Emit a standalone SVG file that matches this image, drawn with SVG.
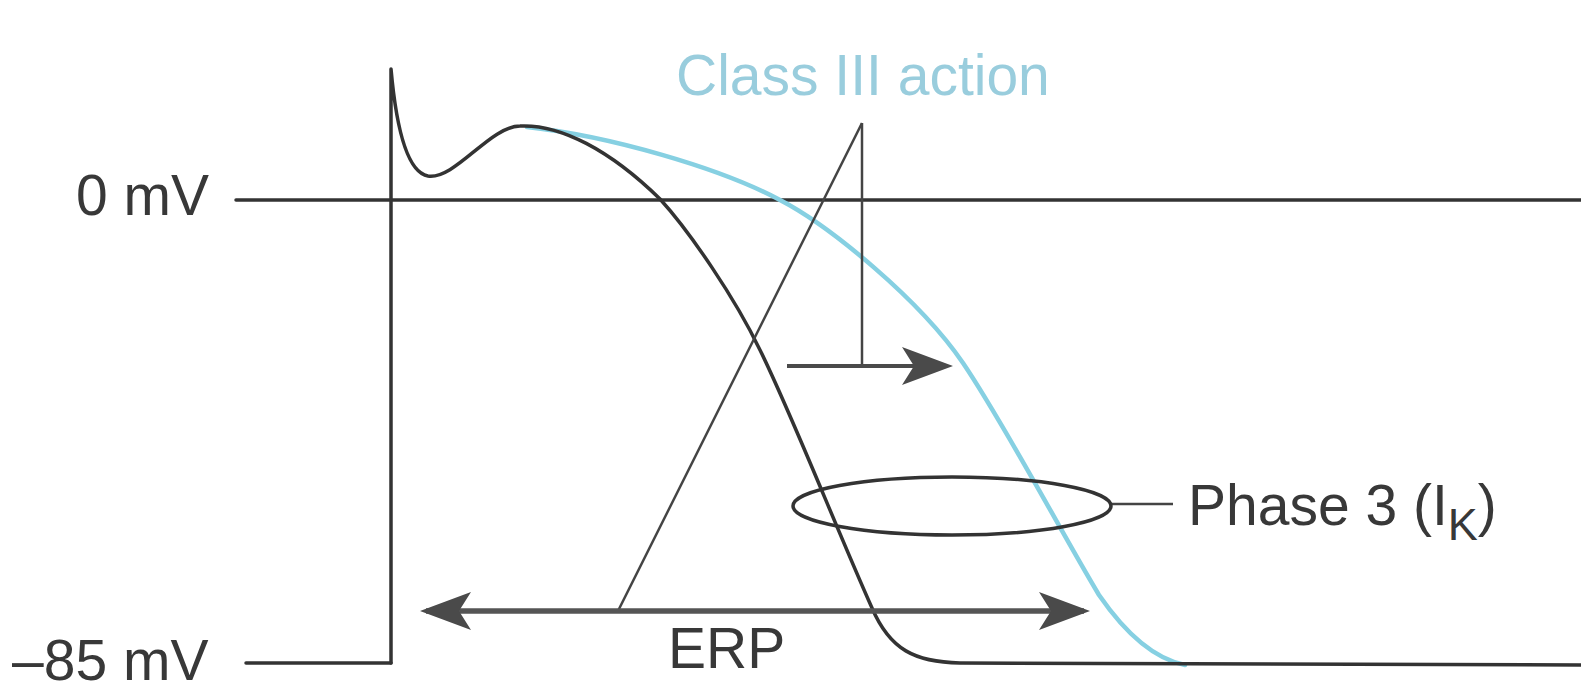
<svg xmlns="http://www.w3.org/2000/svg" width="1581" height="693" viewBox="0 0 1581 693">
<style>
.ln{fill:none;stroke:#333;stroke-width:3.5;stroke-linecap:round;stroke-linejoin:round}
.thin{fill:none;stroke:#444;stroke-width:2.5}
.blue{fill:none;stroke:#86d0e2;stroke-width:4.5;stroke-linecap:round}
.t{font-family:"Liberation Sans",Arial,sans-serif;font-size:57px;fill:#383838}
.tb{font-family:"Liberation Sans",Arial,sans-serif;font-size:57px;fill:#99cddd}
.arr{fill:none;stroke:#4a4a4a;stroke-width:4}
.arr2{fill:none;stroke:#555;stroke-width:5.5}
</style>
<defs>
<marker id="ah" markerUnits="userSpaceOnUse" viewBox="-56 -24 60 48" refX="-6" refY="0" markerWidth="60" markerHeight="48" orient="auto-start-reverse">
<path d="M0,0 L-51,-19 L-39,0 L-51,19 Z" fill="#4a4a4a"/>
</marker>
</defs>
<rect width="1581" height="693" fill="#fff"/>
<g id="axes">
<line class="ln" x1="236" y1="200" x2="1581" y2="200"/>
<line class="ln" x1="246" y1="663" x2="391" y2="663"/>
</g>
<g id="labels">
<text class="t" x="76" y="215">0 mV</text>
<text class="t" x="12" y="680">–85 mV</text>
<text class="t" x="668" y="668">ERP</text>
<text class="tb" x="676" y="95">Class III action</text>
<text class="t" x="1188" y="525">Phase 3 (I<tspan font-size="45" dy="15">K</tspan><tspan dy="-15">)</tspan></text>
</g>
<g id="blue-curve">
<path class="blue" d="M527,127 C610,136 720,168 780,200 C830,226 920,300 963,363 C1005,425 1060,530 1099,595 C1130,640 1160,660 1185,665"/>
</g>
<g id="action-potential">
<path class="ln" d="M391,663 L391,69 C396,125 406,172 428,176 C455,180 490,126 520,126 C560,124 610,150 660,199 C690,232 735,298 760,350 C792,415 835,525 872,608 C890,650 915,662 960,663 L1581,665"/>
</g>
<g id="connectors">
<line class="thin" x1="618" y1="611" x2="862" y2="123"/>
<line class="thin" x1="862" y1="123" x2="862" y2="366"/>
<line class="arr" x1="787" y1="366" x2="947" y2="366" marker-end="url(#ah)"/>
<line class="arr2" x1="426" y1="611" x2="1084" y2="611" marker-start="url(#ah)" marker-end="url(#ah)"/>
<line class="thin" x1="1112" y1="504" x2="1173" y2="504"/>
</g>
<g id="phase3">
<ellipse class="ln" cx="952" cy="506" rx="159" ry="29"/>
</g>
</svg>
